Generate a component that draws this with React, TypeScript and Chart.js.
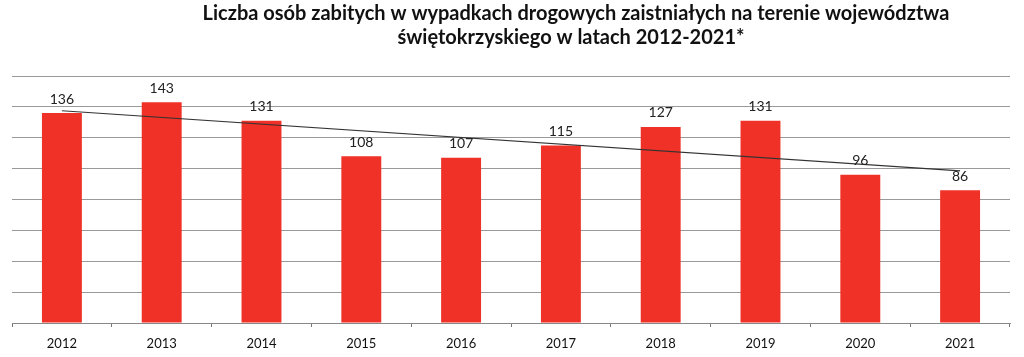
import React, { useEffect, useRef } from "react";
import { Chart, registerables } from "chart.js";

Chart.register(...registerables);

const years = ["2012", "2013", "2014", "2015", "2016", "2017", "2018", "2019", "2020", "2021"];
const killed = [136, 143, 131, 108, 107, 115, 127, 131, 96, 86];
// trend line: value at first and last year
const trend = [137.5, null, null, null, null, null, null, null, null, 98.5];
const titleLines = [
  "Liczba osób zabitych w wypadkach drogowych zaistniałych na terenie województwa",
  "świętokrzyskiego w latach 2012-2021*",
];

const FONT = "Lato, 'Open Sans', sans-serif";

const titlePlugin = {
  id: "customTitle",
  afterDraw(chart: any) {
    const ctx = chart.ctx;
    ctx.save();
    ctx.fillStyle = "#111";
    ctx.font = `bold 20px ${FONT}`;
    ctx.textAlign = "center";
    ctx.textBaseline = "middle";
    ctx.fillText(titleLines[0], 576, 14);
    ctx.fillText(titleLines[1], 571, 38);
    ctx.restore();
  },
};

const labelPlugin = {
  id: "barLabels",
  afterDatasetsDraw(chart: any) {
    const ctx = chart.ctx;
    const meta = chart.getDatasetMeta(0);
    const ds = chart.data.datasets[0];
    ctx.save();
    ctx.fillStyle = "#222";
    ctx.font = `14px ${FONT}`;
    ctx.textAlign = "center";
    ctx.textBaseline = "bottom";
    meta.data.forEach((el: any, i: number) => {
      ctx.fillText(String(ds.data[i]), el.x, el.y - 7);
    });
    ctx.restore();
  },
};

export default function App() {
  const ref = useRef<HTMLCanvasElement | null>(null);
  useEffect(() => {
    if (!ref.current) return;
    const chart = new Chart(ref.current, {
      type: "bar",
      data: {
        labels: years,
        datasets: [
          {
            type: "bar",
            data: killed,
            backgroundColor: "#EF3127",
            barPercentage: 0.4,
            categoryPercentage: 1,
            order: 2,
          },
          {
            type: "line",
            data: trend as any,
            borderColor: "#333",
            borderWidth: 1.2,
            pointRadius: 0,
            spanGaps: true,
            fill: false,
            order: 1,
          } as any,
        ],
      },
      options: {
        animation: false,
        responsive: true,
        maintainAspectRatio: false,
        layout: { padding: { left: 12, right: 14, top: 76, bottom: -3 } },
        plugins: {
          legend: { display: false },
          tooltip: { enabled: false },
          title: { display: false },
        },
        scales: {
          x: {
            offset: true,
            grid: {
              display: true,
              drawOnChartArea: false,
              drawTicks: true,
              tickLength: 4,
              offset: true,
              color: "#777",
            },
            border: { display: true, color: "#888", width: 1 },
            ticks: { color: "#111", font: { family: FONT, size: 13, lineHeight: 1 }, padding: 10 },
          },
          y: {
            min: 0,
            max: 160,
            ticks: { display: false, stepSize: 20 },
            grid: { color: "#999", drawTicks: false, lineWidth: 1 },
            border: { display: false },
          },
        },
      },
      plugins: [titlePlugin, labelPlugin],
    });
    return () => chart.destroy();
  }, []);
  return (
    <div style={{ position: "fixed", left: 0, top: 0, width: 1024, height: 357, background: "#fff" }}>
      <canvas ref={ref} />
    </div>
  );
}
